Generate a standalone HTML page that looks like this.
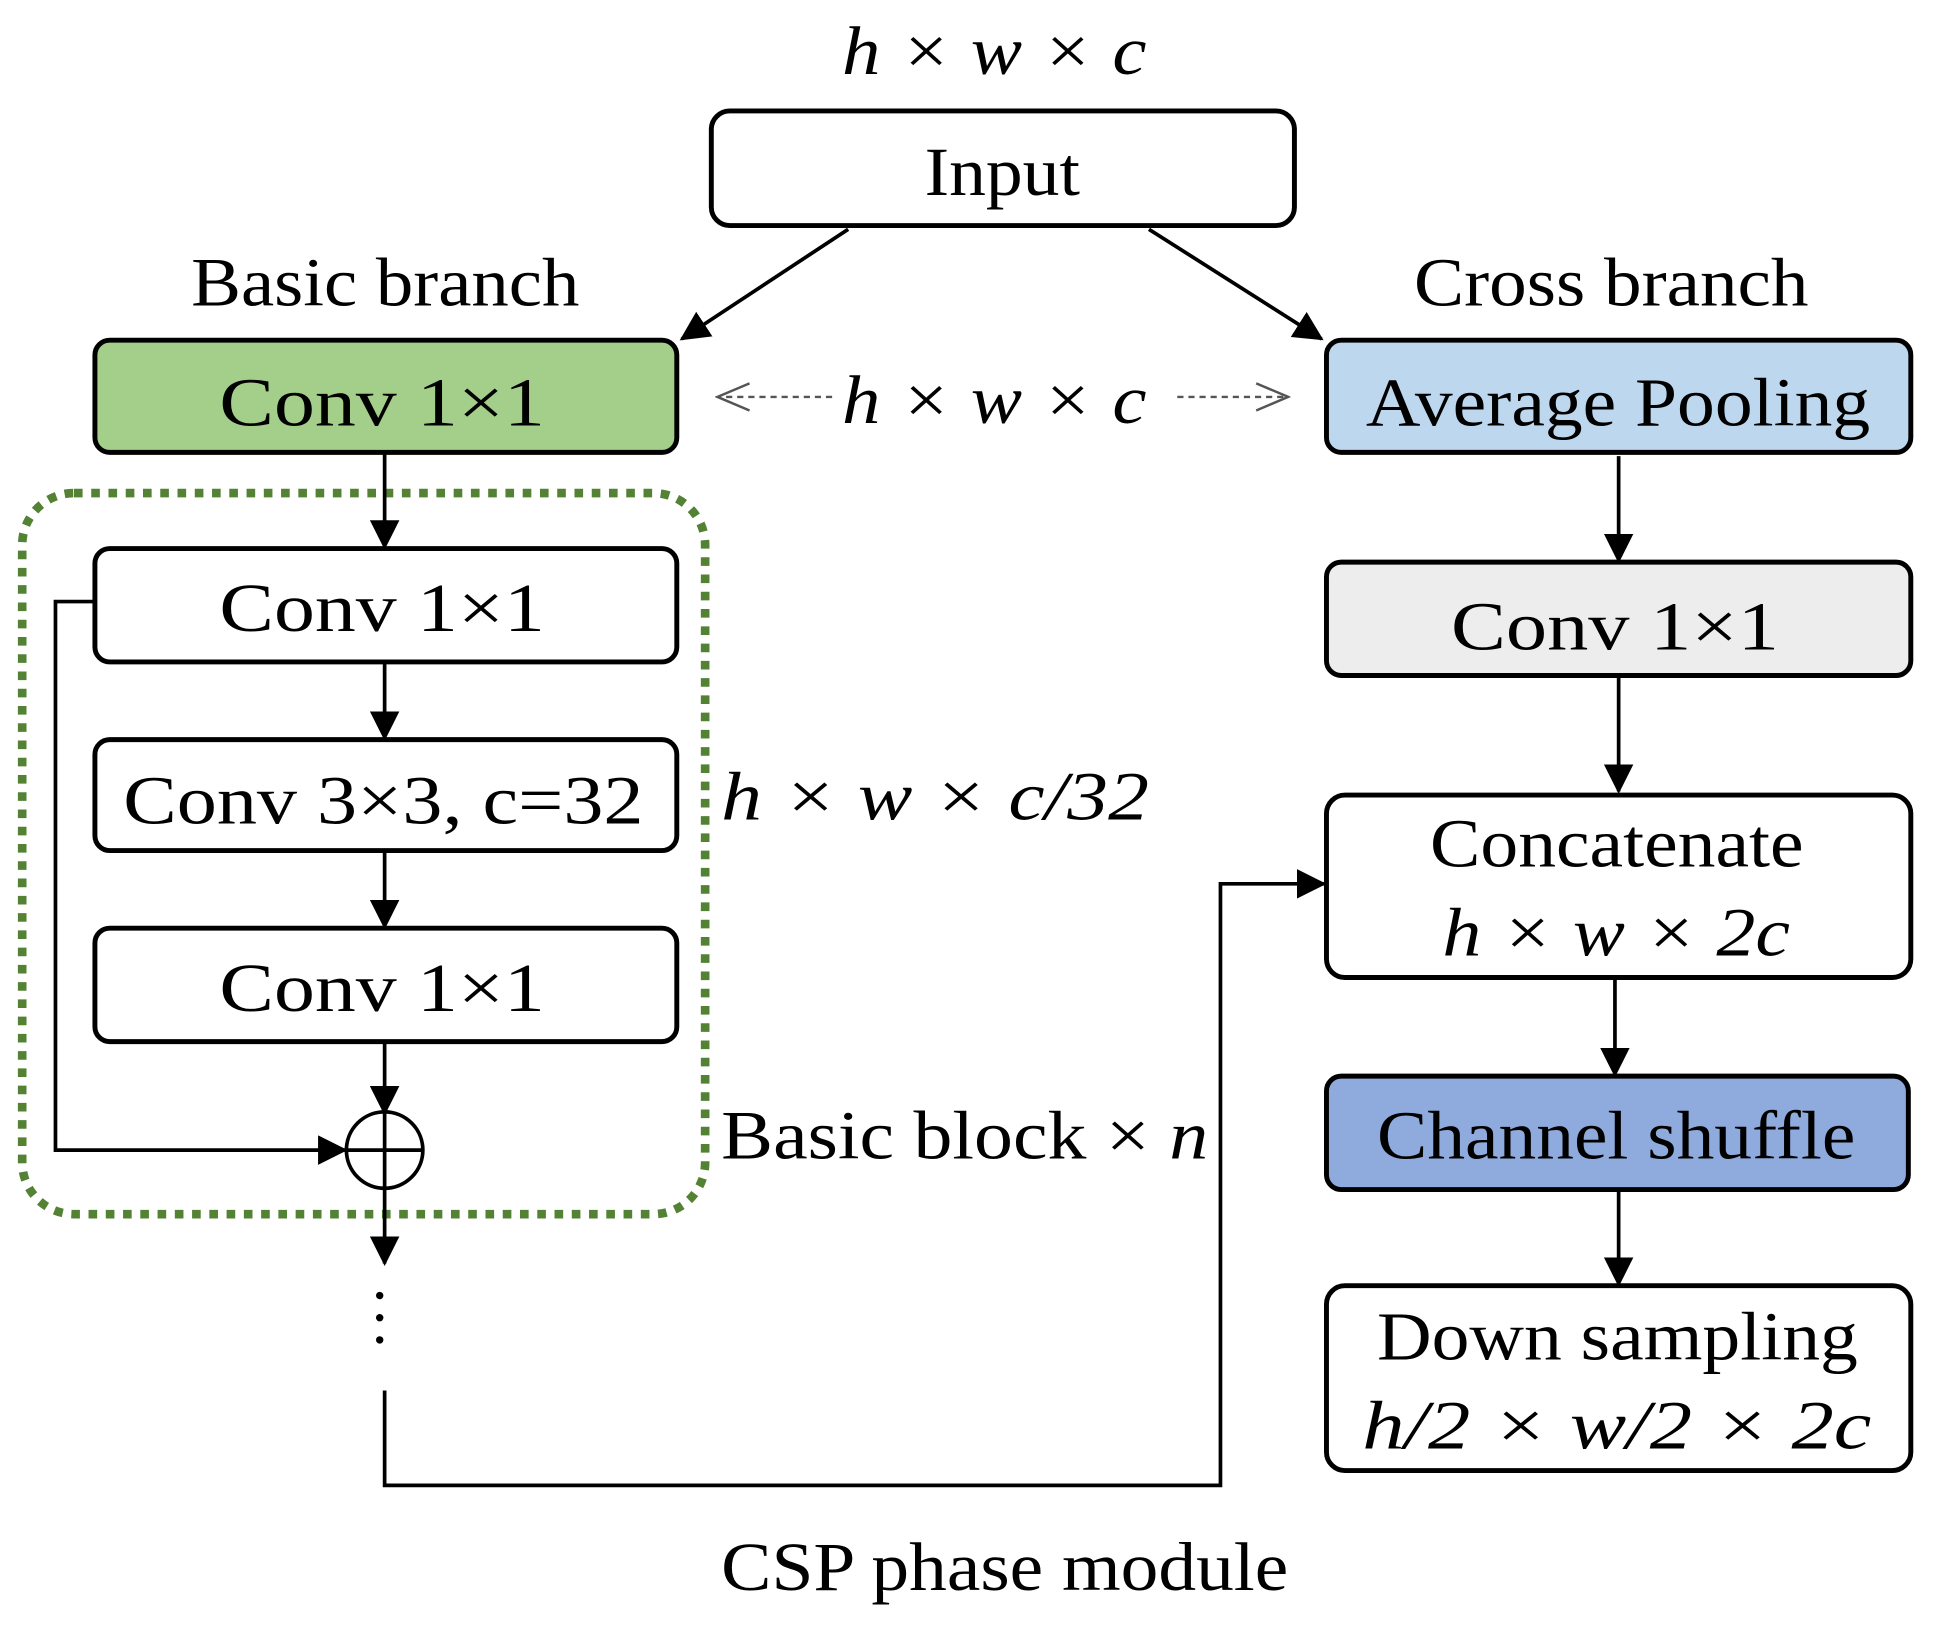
<!DOCTYPE html>
<html><head><style>html,body{margin:0;padding:0;background:#fff;}svg{display:block}</style></head>
<body>
<svg width="1933" height="1637" viewBox="0 0 1568 1328" preserveAspectRatio="none" xmlns="http://www.w3.org/2000/svg" font-family="Liberation Serif, serif" font-size="56">
<defs>
<marker id="ah" markerWidth="24" markerHeight="24" refX="22" refY="12" orient="auto" markerUnits="userSpaceOnUse"><path d="M0,0 L24,12 L0,24 z" fill="#000"/></marker>
<marker id="o" markerWidth="30" markerHeight="30" refX="28" refY="15" orient="auto" markerUnits="userSpaceOnUse"><path d="M2,4 L28,15 L2,26" fill="none" stroke="#555" stroke-width="2"/></marker>
</defs>
<g stroke="#000" stroke-width="4">
<rect x="577" y="90" width="473" height="93" rx="15" fill="#fff"/>
<rect x="77" y="276" width="472" height="91" rx="12" fill="#a3cf8b"/>
<rect x="1076" y="276" width="474" height="91" rx="12" fill="#bdd7ee"/>
<rect x="1076" y="456" width="474" height="92" rx="12" fill="#ededed"/>
<rect x="1076" y="645" width="474" height="148" rx="15" fill="#fff"/>
<rect x="1076" y="873" width="472" height="92" rx="12" fill="#8faadc"/>
<rect x="1076" y="1043" width="474" height="150" rx="15" fill="#fff"/>
<rect x="77" y="445" width="472" height="92" rx="12" fill="#fff"/>
<rect x="77" y="600" width="472" height="90" rx="12" fill="#fff"/>
<rect x="77" y="753" width="472" height="92" rx="12" fill="#fff"/>
</g>
<rect x="18" y="400" width="554" height="585" rx="42" fill="none" stroke="#548235" stroke-width="7" stroke-dasharray="7 7"/>
<g stroke="#000" stroke-width="3" fill="none">
<line x1="688" y1="186" x2="553" y2="275" marker-end="url(#ah)"/>
<line x1="932" y1="186" x2="1072" y2="275" marker-end="url(#ah)"/>
<line x1="1313" y1="370" x2="1313" y2="455" marker-end="url(#ah)"/>
<line x1="1313" y1="550" x2="1313" y2="642" marker-end="url(#ah)"/>
<line x1="1310" y1="795" x2="1310" y2="872" marker-end="url(#ah)"/>
<line x1="1313" y1="967" x2="1313" y2="1042" marker-end="url(#ah)"/>
<line x1="312" y1="367" x2="312" y2="444" marker-end="url(#ah)"/>
<line x1="312" y1="537" x2="312" y2="599" marker-end="url(#ah)"/>
<line x1="312" y1="690" x2="312" y2="752" marker-end="url(#ah)"/>
<line x1="312" y1="845" x2="312" y2="903" marker-end="url(#ah)"/>
<line x1="312" y1="964" x2="312" y2="1025" marker-end="url(#ah)"/>
<polyline points="77,488 45,488 45,933 280,933" marker-end="url(#ah)"/>
<polyline points="312,1128 312,1205 990,1205 990,717 1074,717" marker-end="url(#ah)"/>
<circle cx="312" cy="933" r="31"/>
<line x1="281" y1="933" x2="343" y2="933"/>
<line x1="312" y1="902" x2="312" y2="964"/>
</g>
<g fill="#000"><circle cx="308" cy="1051" r="3"/><circle cx="308" cy="1069" r="3"/><circle cx="308" cy="1087" r="3"/></g>
<g stroke="#555" stroke-width="2" stroke-dasharray="5 4" fill="none">
<line x1="675" y1="322" x2="582" y2="322" marker-end="url(#o)"/>
<line x1="955" y1="322" x2="1045" y2="322" marker-end="url(#o)"/>
</g>
<g fill="#000" lengthAdjust="spacingAndGlyphs">
<text x="683" y="60" font-style="italic" textLength="247" lengthAdjust="spacingAndGlyphs">h × w × c</text>
<text x="750" y="158" textLength="126" lengthAdjust="spacingAndGlyphs">Input</text>
<text x="155" y="248" textLength="315" lengthAdjust="spacingAndGlyphs">Basic branch</text>
<text x="1147" y="248" textLength="320" lengthAdjust="spacingAndGlyphs">Cross branch</text>
<text x="178" y="345" textLength="264" lengthAdjust="spacingAndGlyphs">Conv 1×1</text>
<text x="683" y="343" font-style="italic" textLength="247" lengthAdjust="spacingAndGlyphs">h × w × c</text>
<text x="1108" y="345" textLength="409" lengthAdjust="spacingAndGlyphs">Average Pooling</text>
<text x="1177" y="527" textLength="266" lengthAdjust="spacingAndGlyphs">Conv 1×1</text>
<text x="1160" y="703" textLength="303" lengthAdjust="spacingAndGlyphs">Concatenate</text>
<text x="1170" y="775" font-style="italic" textLength="282" lengthAdjust="spacingAndGlyphs">h × w × 2c</text>
<text x="1117" y="940" textLength="388" lengthAdjust="spacingAndGlyphs">Channel shuffle</text>
<text x="1117" y="1103" textLength="390" lengthAdjust="spacingAndGlyphs">Down sampling</text>
<text x="1105" y="1175" font-style="italic" textLength="413" lengthAdjust="spacingAndGlyphs">h/2 × w/2 × 2c</text>
<text x="178" y="512" textLength="264" lengthAdjust="spacingAndGlyphs">Conv 1×1</text>
<text x="100" y="668" textLength="422" lengthAdjust="spacingAndGlyphs">Conv 3×3, c=32</text>
<text x="178" y="820" textLength="264" lengthAdjust="spacingAndGlyphs">Conv 1×1</text>
<text x="585" y="1290" textLength="460" lengthAdjust="spacingAndGlyphs">CSP phase module</text>
<text x="585" y="665" font-style="italic" textLength="347" lengthAdjust="spacingAndGlyphs">h × w × c/32</text>
<text x="585" y="940" textLength="395" lengthAdjust="spacingAndGlyphs">Basic block × <tspan font-style="italic">n</tspan></text>
</g>
</svg>
</body></html>
